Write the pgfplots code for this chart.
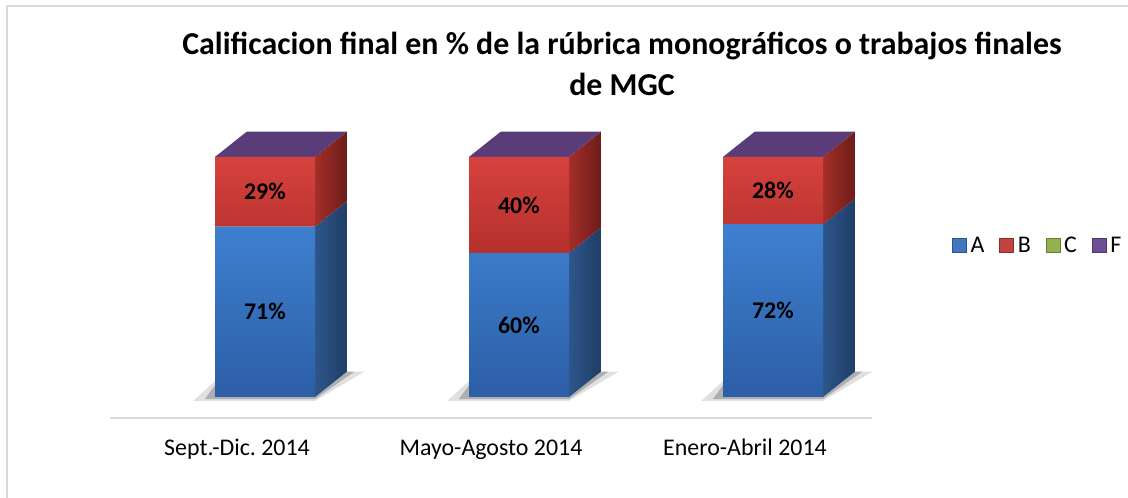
\documentclass[border=0pt]{standalone}
\usepackage{pgfplots}
\pgfplotsset{compat=1.18}
\usepackage{pgfplotstable}
\usepackage{fontspec}
\setmainfont{Carlito}
\frenchspacing

\definecolor{frontAtop}{HTML}{3E80D0}
\definecolor{frontAbot}{HTML}{2C5EA6}
\definecolor{frontBtop}{HTML}{D6423D}
\definecolor{frontBbot}{HTML}{B5302D}
\definecolor{sideAl}{HTML}{2D5689}
\definecolor{sideAr}{HTML}{1F3D68}
\definecolor{sideBl}{HTML}{A52E29}
\definecolor{sideBr}{HTML}{6C1C19}
\definecolor{topF}{HTML}{5A3D78}
\definecolor{legA}{HTML}{3F78BE}
\definecolor{legB}{HTML}{C2423E}
\definecolor{legC}{HTML}{92B24E}
\definecolor{legF}{HTML}{6D4F93}
\definecolor{framegray}{HTML}{D9D9D9}

\pgfplotstableread{
x A B C F
0 71 29 0 0
1 60 40 0 0
2 72 28 0 0
}\datatable

\pgfplotsset{
  common/.style={
    at={(0bp,0bp)}, anchor=south west,
    scale only axis, width=762bp, height=288bp,
    xmin=-0.5, xmax=2.5, ymin=-8.75, ymax=111.25,
    clip=false,
  }
}

\begin{document}
\begin{tikzpicture}
\useasboundingbox (-110bp,-80bp) rectangle (1018bp,418bp);
\draw[color=framegray, line width=1.5bp] (-103bp,-200bp) -- (-103bp,412bp) -- (1200bp,412bp);
\node[font=\bfseries\fontsize{32}{38}\selectfont, anchor=base] at (512bp,363bp)
  {Calificacion final en \% de la rúbrica monográficos o trabajos finales};
\node[font=\bfseries\fontsize{32}{38}\selectfont, anchor=base] at (512bp,322bp)
  {de MGC};
% back layer: floor line, ticks, shadows, side and top faces, legend
\begin{axis}[
  common,
  axis x line*=bottom, axis y line=none,
  x axis line style={draw=framegray, line width=2.5bp},
  xtick={0,1,2},
  xticklabels={Sept.-Dic. 2014, Mayo-Agosto 2014, Enero-Abril 2014},
  xtick style={draw=none},
  xticklabel style={font=\fontsize{24}{28}\selectfont, anchor=base, yshift=-37bp},
  legend image code/.code={\draw[#1] (0bp,-7bp) rectangle (14bp,7bp);},
  legend columns=4,
  legend style={at={(1.101,0.60)}, anchor=west, draw=none, fill=none,
    font=\fontsize{24}{28}\selectfont,
    /tikz/every odd column/.append style={column sep=2bp},
    /tikz/every even column/.append style={column sep=13bp}},
]
\pgfplotsinvokeforeach{0,1,2}{
  \pgfplotstablegetelem{#1}{A}\of\datatable \let\va\pgfplotsretval
  \pgfmathsetmacro\xl{#1-0.087}
  \pgfmathsetmacro\xr{#1+0.307}
  \pgfmathsetmacro\xlb{#1-0.087+0.126}
  \pgfmathsetmacro\xb{#1+0.307+0.126}
  \pgfmathsetmacro\dy{10.6}
  \pgfmathsetmacro\vady{\va+10.6}
  \pgfmathsetmacro\sxl{#1-0.087-0.085}
  \pgfmathsetmacro\sxr{#1+0.307+0.126+0.07}
  \pgfmathsetmacro\sxlb{#1-0.087-0.085+0.126}
  \pgfmathsetmacro\sxlc{#1-0.087-0.04}
  \pgfmathsetmacro\sxrc{#1+0.307+0.126+0.03}
  \edef\tmp{%
    \noexpand\addplot[forget plot, draw=none, fill=black, fill opacity=0.12]
      coordinates {(\sxl,-1.6) (\xr,-1.6) (\sxr,\dy) (\sxlb,\dy)} --cycle;
    \noexpand\addplot[forget plot, draw=none, fill=black, fill opacity=0.22]
      coordinates {(\sxlc,-0.9) (\xr,-0.9) (\sxrc,\dy) (\sxlb,\dy)} --cycle;
    \noexpand\addplot[forget plot, draw=none, left color=sideAl, right color=sideAr]
      coordinates {(\xr,0) (\xb,\dy) (\xb,\vady) (\xr,\va)} --cycle;
    \noexpand\addplot[forget plot, draw=none, left color=sideBl, right color=sideBr]
      coordinates {(\xr,\va) (\xb,\vady) (\xb,110.6) (\xr,100)} --cycle;
    \noexpand\addplot[forget plot, draw=none, fill=topF]
      coordinates {(\xl,100) (\xr,100) (\xb,110.6) (\xlb,110.6)} --cycle;
  }\tmp
}
\addlegendimage{fill=legA, draw=legA!70!black}
\addlegendentry{A}
\addlegendimage{fill=legB, draw=legB!70!black}
\addlegendentry{B}
\addlegendimage{fill=legC, draw=legC!70!black}
\addlegendentry{C}
\addlegendimage{fill=legF, draw=legF!70!black}
\addlegendentry{F}
\end{axis}
% front layer: stacked bar fronts
\begin{axis}[
  common, hide axis,
  ybar stacked, bar width=100bp, bar shift=28bp,
]
\addplot[draw=none, top color=frontAtop, bottom color=frontAbot]
  table[x=x, y=A] {\datatable};
\addplot[draw=none, top color=frontBtop, bottom color=frontBbot]
  table[x=x, y=B] {\datatable};
\end{axis}
% label layer: value labels centred in each segment
\begin{axis}[
  common, hide axis,
  nodes near coords={\pgfplotspointmeta\%},
  point meta=explicit symbolic,
  every node near coord/.append style={font=\bfseries\fontsize{24}{28}\selectfont,
    anchor=center},
]
\addplot[draw=none, mark=none]
  table[x expr=\thisrow{x}+0.110, y expr=\thisrow{A}/2, meta=A] {\datatable};
\addplot[draw=none, mark=none]
  table[x expr=\thisrow{x}+0.110, y expr=\thisrow{A}+\thisrow{B}/2, meta=B] {\datatable};
\end{axis}
\end{tikzpicture}
\end{document}
